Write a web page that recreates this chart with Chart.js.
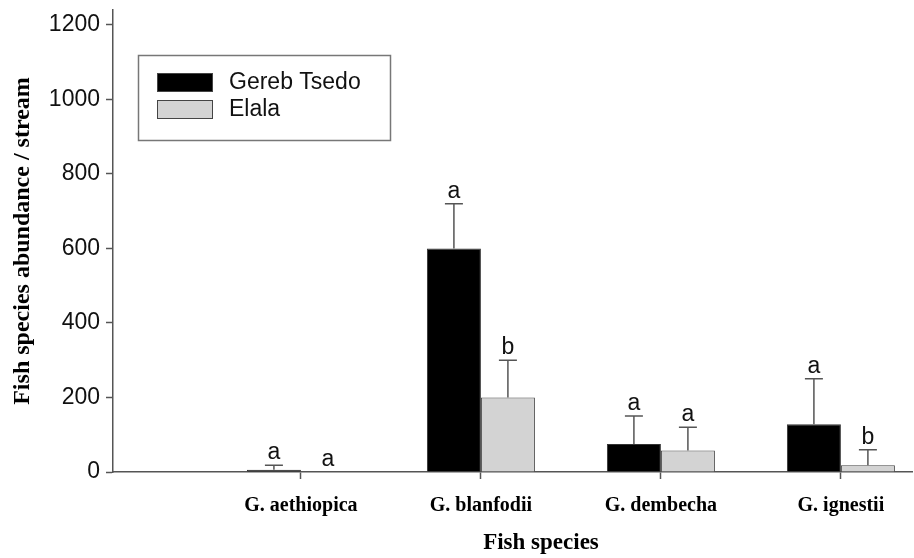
<!DOCTYPE html>
<html>
<head>
<meta charset="utf-8">
<script src="https://cdn.jsdelivr.net/npm/chart.js@4.4.1/dist/chart.umd.min.js"></script>
<style>
  html, body { margin: 0; padding: 0; background: #fff; }
  #wrap { width: 914px; height: 558px; position: relative; }
</style>
</head>
<body>
<div id="wrap"><canvas id="c" width="914" height="558"></canvas></div>
<script>
// ---- data ----
const species = ['G. aethiopica', 'G. blanfodii', 'G. dembecha', 'G. ignestii'];
const seriesNames = ['Gereb Tsedo', 'Elala'];
const gerebTsedo = [6, 600, 75, 128];
const elala = [0, 200, 58, 18];
const gerebTsedoErr = [12, 120, 75, 122];
const elalaErr = [0, 100, 62, 42];
const gerebTsedoLetters = ['a', 'a', 'a', 'a'];
const elalaLetters = ['a', 'b', 'a', 'b'];
const yTicks = [0, 200, 400, 600, 800, 1000, 1200];

const toPoints = arr => arr.map((v, i) => ({ x: i + 1, y: v }));

const axisColor = '#555555';

const extrasPlugin = {
  id: 'extras',
  afterDatasetsDraw(chart) {
    const ctx = chart.ctx;
    const yScale = chart.scales.y;
    const errs = [gerebTsedoErr, elalaErr];
    const letters = [gerebTsedoLetters, elalaLetters];
    ctx.save();
    chart.data.datasets.forEach((ds, di) => {
      const meta = chart.getDatasetMeta(di);
      meta.data.forEach((bar, i) => {
        const v = ds.data[i].y;
        const e = errs[di][i];
        const x = bar.x;
        const yTop = yScale.getPixelForValue(v);
        const yErr = yScale.getPixelForValue(v + e);
        if (e > 0) {
          ctx.strokeStyle = axisColor;
          ctx.lineWidth = 1.5;
          ctx.beginPath();
          ctx.moveTo(x, yTop);
          ctx.lineTo(x, yErr);
          ctx.moveTo(x - 9, yErr);
          ctx.lineTo(x + 9, yErr);
          ctx.stroke();
        }
        ctx.fillStyle = '#111';
        ctx.font = '23px "Liberation Sans", Arial, sans-serif';
        ctx.textAlign = 'center';
        ctx.textBaseline = 'alphabetic';
        ctx.fillText(letters[di][i], x, yErr - 6);
      });
    });
    // legend box
    ctx.strokeStyle = '#777';
    ctx.lineWidth = 1.5;
    ctx.strokeRect(138.5, 55.5, 252, 85);
    const entries = [
      { label: seriesNames[0], fill: '#000000', y: 73 },
      { label: seriesNames[1], fill: '#d3d3d3', y: 100 }
    ];
    entries.forEach(en => {
      ctx.fillStyle = en.fill;
      ctx.fillRect(157, en.y, 55, 18);
      ctx.strokeStyle = '#444';
      ctx.lineWidth = 1;
      ctx.strokeRect(157.5, en.y + 0.5, 55, 18);
      ctx.fillStyle = '#111';
      ctx.font = '23px "Liberation Sans", Arial, sans-serif';
      ctx.textAlign = 'left';
      ctx.textBaseline = 'middle';
      ctx.fillText(en.label, 229, en.y + 10);
    });
    // x axis title
    ctx.fillStyle = '#000';
    ctx.font = 'bold 23px "Liberation Serif", "Times New Roman", serif';
    ctx.textAlign = 'center';
    ctx.textBaseline = 'middle';
    ctx.fillText('Fish species', 541, 543);
    ctx.restore();
  }
};

new Chart(document.getElementById('c'), {
  type: 'bar',
  data: {
    datasets: [
      {
        label: seriesNames[0],
        data: toPoints(gerebTsedo),
        backgroundColor: '#000000',
        borderColor: '#333333',
        borderWidth: 1
      },
      {
        label: seriesNames[1],
        data: toPoints(elala),
        backgroundColor: '#d3d3d3',
        borderColor: '#444444',
        borderWidth: 1
      }
    ]
  },
  options: {
    responsive: false,
    animation: false,
    devicePixelRatio: 1,
    categoryPercentage: 0.6,
    barPercentage: 1.0,
    layout: { padding: { left: 0, top: 10, right: 2, bottom: 0 } },
    plugins: { legend: { display: false }, tooltip: { enabled: false } },
    scales: {
      x: {
        type: 'linear',
        offset: false,
        min: -0.044,
        max: 4.395,
        afterBuildTicks: axis => { axis.ticks = species.map((s, i) => ({ value: i + 1 })); },
        afterFit: axis => { axis.height = 86; axis.paddingLeft = 0; axis.paddingRight = 0; },
        ticks: {
          autoSkip: false,
          maxRotation: 0,
          padding: 15,
          color: '#000',
          font: { family: '"Liberation Serif", "Times New Roman", serif', size: 20, weight: 'bold' },
          callback: v => species[Math.round(v) - 1] || ''
        },
        grid: { display: true, offset: false, drawOnChartArea: false, drawTicks: true, tickLength: 7, tickColor: axisColor, tickWidth: 1.5 },
        border: { display: true, color: axisColor, width: 1.5 }
      },
      y: {
        min: 0,
        max: 1240,
        afterBuildTicks: axis => { axis.ticks = yTicks.map(v => ({ value: v })); },
        afterFit: axis => { axis.width = 113; axis.paddingTop = 0; axis.paddingBottom = 0; },
        ticks: {
          padding: 6,
          color: '#111',
          font: { family: '"Liberation Sans", Arial, sans-serif', size: 23 },
          callback: v => String(v)
        },
        grid: { display: true, drawOnChartArea: false, drawTicks: true, tickLength: 7, tickColor: axisColor, tickWidth: 1.5 },
        border: { display: true, color: axisColor, width: 1.5 },
        title: {
          display: true,
          text: 'Fish species abundance / stream',
          color: '#000',
          padding: { top: 8, bottom: 0 },
          font: { family: '"Liberation Serif", "Times New Roman", serif', size: 24, weight: 'bold' }
        }
      }
    }
  },
  plugins: [extrasPlugin]
});
</script>
</body>
</html>
